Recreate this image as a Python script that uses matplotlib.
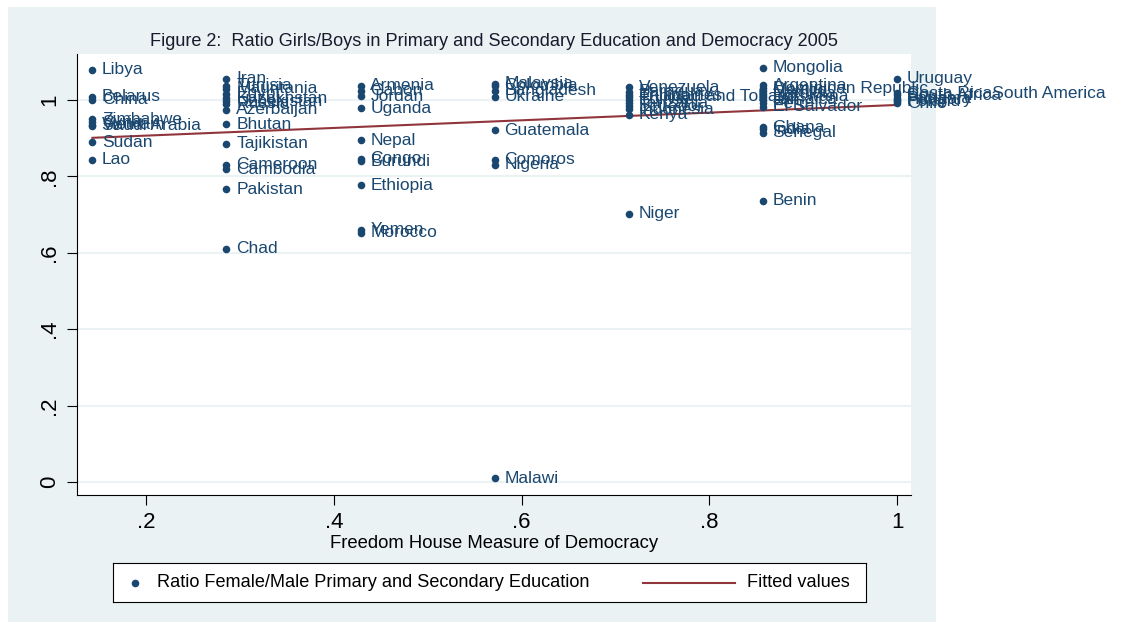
import matplotlib
matplotlib.use("Agg")
import matplotlib.pyplot as plt
from matplotlib.patches import Rectangle
from matplotlib.lines import Line2D

plt.rcParams['font.family'] = ['Liberation Sans', 'DejaVu Sans']

NAVY = '#1a476f'
MAROON = '#90353b'
BG = '#eaf2f3'

countries = [
    "Libya", "Belarus", "China", "Zimbabwe", "Syria", "Vietnam", "Saudi Arabia", "Sudan", "Lao",
    "Iran", "Tunisia", "Mauritania", "Egypt", "Kazakhstan", "Uzbekistan", "Russia", "Azerbaijan",
    "Bhutan", "Tajikistan", "Cameroon", "Cambodia", "Pakistan", "Chad",
    "Armenia", "Gabon", "Jordan", "Uganda", "Nepal", "Congo", "Burundi", "Ethiopia", "Yemen", "Morocco",
    "Malaysia", "Colombia", "Bangladesh", "Ukraine", "Guatemala", "Comoros", "Nigeria", "Malawi",
    "Venezuela", "Paraguay", "Philippines", "Trinidad and Tobago", "Bolivia", "Tanzania", "Ecuador",
    "Indonesia", "Kenya", "Niger",
    "Mongolia", "Argentina", "Dominican Republic", "Mexico", "Namibia", "Botswana", "Jamaica", "Peru",
    "El Salvador", "Ghana", "India", "Senegal", "Benin",
    "Uruguay", "Costa RicaSouth America", "South Africa", "Panama", "Hungary", "Poland", "Chile",
]
democracy = (
    [0.1429] * 9
    + [0.2857] * 14
    + [0.4286] * 10
    + [0.5714] * 8
    + [0.7143] * 10
    + [0.8571] * 13
    + [1.0] * 7
)
ratio = [
    1.079, 1.008, 1.000, 0.950, 0.942, 0.935, 0.932, 0.890, 0.843,
    1.055, 1.037, 1.029, 1.016, 1.005, 0.997, 0.990, 0.974,
    0.937, 0.885, 0.830, 0.819, 0.767, 0.610,
    1.037, 1.024, 1.010, 0.979, 0.895, 0.846, 0.840, 0.777, 0.660, 0.652,
    1.042, 1.037, 1.024, 1.008, 0.921, 0.843, 0.830, 0.010,
    1.034, 1.021, 1.013, 1.008, 1.000, 0.992, 0.984, 0.976, 0.961, 0.702,
    1.084, 1.039, 1.031, 1.024, 1.016, 1.008, 1.000, 0.992, 0.982, 0.929, 0.924, 0.914, 0.736,
    1.055, 1.018, 1.013, 1.005, 1.000, 0.997, 0.992,
]
fit_x = [0.1429, 1.0]
fit_y = [0.901, 0.987]

xticks = [0.2, 0.4, 0.6, 0.8, 1.0]
xticklabels = [".2", ".4", ".6", ".8", "1"]
yticks = [0, 0.2, 0.4, 0.6, 0.8, 1.0]
yticklabels = ["0", ".2", ".4", ".6", ".8", "1"]

W, H = 1122, 628
fig = plt.figure(figsize=(W / 100, H / 100), dpi=100)
fig.patch.set_facecolor('white')
fig.patches.append(Rectangle((8 / W, 6 / H), 928 / W, 615 / H, transform=fig.transFigure,
                             facecolor=BG, edgecolor='none', zorder=-10))

ax = fig.add_axes([77 / W, (H - 495) / H, (911 - 77) / W, (495 - 54) / H])
ax.set_facecolor('white')
ax.set_xlim(0.1265, 1.0149)
ax.set_ylim(-0.034, 1.1204)

for yt in yticks:
    ax.axhline(yt, color=BG, lw=1.5, zorder=0)

ax.scatter(democracy, ratio, s=30, color=NAVY, zorder=3, linewidths=0)
for name, x, y in zip(countries, democracy, ratio):
    ax.annotate(name, (x, y), xytext=(7, 0), textcoords='offset points',
                va='center', ha='left', fontsize=12.5, color=NAVY, zorder=4,
                annotation_clip=False)
ax.plot(fit_x, fit_y, color=MAROON, lw=1.5, zorder=2)

for s in ['top', 'right']:
    ax.spines[s].set_visible(False)
for s in ['left', 'bottom']:
    ax.spines[s].set_color('black')
    ax.spines[s].set_linewidth(0.8)

ax.set_xticks(xticks)
ax.set_xticklabels(xticklabels)
ax.set_yticks(yticks)
ax.set_yticklabels(yticklabels, rotation=90, va='center')
ax.tick_params(axis='both', direction='out', length=7, width=0.8, labelsize=16, pad=5)

ax.set_xlabel("Freedom House Measure of Democracy", fontsize=13.3, labelpad=2)
fig.text(494 / W, (H - 42) / H,
         "Figure 2:  Ratio Girls/Boys in Primary and Secondary Education and Democracy 2005",
         ha='center', va='center', fontsize=13.1, color='#1a1a2e')

# legend box
lx0, ly0, lw, lh = 113, 563, 753, 39
leg = fig.add_axes([lx0 / W, (H - ly0 - lh) / H, lw / W, lh / H])
leg.set_xlim(0, lw)
leg.set_ylim(0, lh)
leg.set_xticks([])
leg.set_yticks([])
for s in leg.spines.values():
    s.set_color('black')
    s.set_linewidth(0.8)
leg.scatter([22], [lh / 2], s=30, color=NAVY, linewidths=0)
leg.text(44, lh / 2, "Ratio Female/Male Primary and Secondary Education", va='center', ha='left', fontsize=13.1)
leg.add_line(Line2D([530, 622], [lh / 2, lh / 2], color=MAROON, lw=1.5))
leg.text(634, lh / 2, "Fitted values", va='center', ha='left', fontsize=13.1)

fig.savefig("out.png", dpi=100)
